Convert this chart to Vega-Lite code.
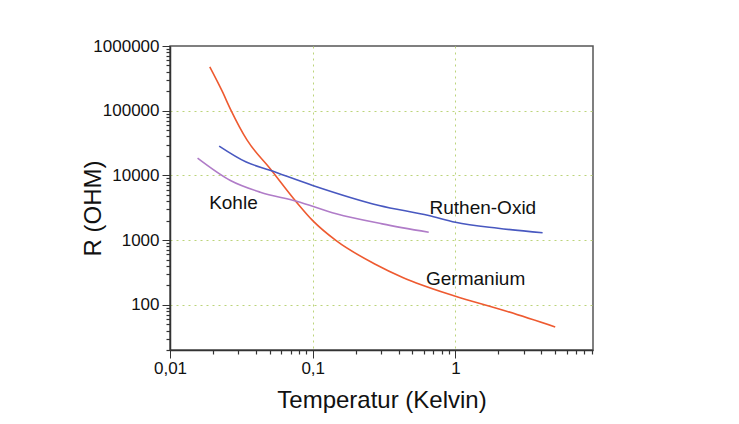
{
  "$schema": "https://vega.github.io/schema/vega-lite/v6.json",
  "width": 423,
  "height": 304,
  "autosize": {"type": "none"},
  "padding": {"left": 170, "top": 46, "right": 146, "bottom": 74},
  "background": "#ffffff",
  "config": {
    "font": "Liberation Sans",
    "view": {"stroke": "#555555", "strokeWidth": 1.5},
    "axis": {
      "domainColor": "#333333",
      "domainWidth": 1.5,
      "tickColor": "#333333",
      "tickWidth": 1,
      "labelFont": "Liberation Sans",
      "labelFontSize": 17,
      "labelColor": "#111111",
      "titleFont": "Liberation Sans",
      "titleFontSize": 24,
      "titleFontWeight": "normal",
      "titleColor": "#111111",
      "labelOverlap": false,
      "labelBound": false,
      "labelFlush": false
    }
  },
  "resolve": {"axis": {"x": "independent", "y": "independent"}},
  "datasets": {
    "curves": [
      {"series": "Germanium", "T": 0.019, "R": 475000},
      {"series": "Germanium", "T": 0.0232, "R": 200000},
      {"series": "Germanium", "T": 0.0265, "R": 106000},
      {"series": "Germanium", "T": 0.0347, "R": 35000},
      {"series": "Germanium", "T": 0.0502, "R": 12800},
      {"series": "Germanium", "T": 0.077, "R": 3860},
      {"series": "Germanium", "T": 0.1, "R": 2000},
      {"series": "Germanium", "T": 0.146, "R": 980},
      {"series": "Germanium", "T": 0.272, "R": 428},
      {"series": "Germanium", "T": 0.427, "R": 265},
      {"series": "Germanium", "T": 0.975, "R": 138},
      {"series": "Germanium", "T": 2.22, "R": 81},
      {"series": "Germanium", "T": 5.0, "R": 45.5},
      {"series": "Ruthen-Oxid", "T": 0.0221, "R": 28400},
      {"series": "Ruthen-Oxid", "T": 0.0342, "R": 16100},
      {"series": "Ruthen-Oxid", "T": 0.0502, "R": 12000},
      {"series": "Ruthen-Oxid", "T": 0.1, "R": 7000},
      {"series": "Ruthen-Oxid", "T": 0.292, "R": 3430},
      {"series": "Ruthen-Oxid", "T": 0.65, "R": 2400},
      {"series": "Ruthen-Oxid", "T": 1.0, "R": 1890},
      {"series": "Ruthen-Oxid", "T": 1.99, "R": 1525},
      {"series": "Ruthen-Oxid", "T": 4.08, "R": 1295},
      {"series": "Kohle", "T": 0.0156, "R": 18500},
      {"series": "Kohle", "T": 0.0265, "R": 8350},
      {"series": "Kohle", "T": 0.0429, "R": 5500},
      {"series": "Kohle", "T": 0.077, "R": 3990},
      {"series": "Kohle", "T": 0.146, "R": 2550},
      {"series": "Kohle", "T": 0.307, "R": 1780},
      {"series": "Kohle", "T": 0.65, "R": 1320}
    ],
    "labels": [
      {"series": "Kohle", "T": 0.0188, "R": 3800},
      {"series": "Ruthen-Oxid", "T": 0.658, "R": 3180},
      {"series": "Germanium", "T": 0.622, "R": 254}
    ]
  },
  "layer": [
    {
      "data": {"name": "curves"},
      "mark": {"type": "line", "strokeWidth": 1.6, "interpolate": "monotone"},
      "encoding": {
        "x": {
          "field": "T",
          "type": "quantitative",
          "scale": {"type": "log", "domain": [0.01, 9.2], "nice": false},
          "axis": {
            "orient": "bottom",
            "title": "Temperatur (Kelvin)",
            "values": [0.01, 0.1, 1],
            "labelExpr": "datum.value == 0.01 ? '0,01' : datum.value == 0.1 ? '0,1' : '1'",
            "tickSize": 8,
            "labelPadding": 2,
            "grid": true,
            "gridColor": "#bcd47a",
            "gridDash": [2, 4],
            "gridWidth": 1,
            "gridOpacity": {"condition": {"test": "datum.value > 0.05", "value": 1}, "value": 0},
            "titleBaseline": "middle",
            "titleY": 50
          }
        },
        "y": {
          "field": "R",
          "type": "quantitative",
          "scale": {"type": "log", "domain": [20, 1000000], "nice": false},
          "axis": {
            "orient": "left",
            "title": "R (OHM)",
            "values": [100, 1000, 10000, 100000, 1000000],
            "format": "d",
            "tickSize": 8,
            "labelPadding": 3,
            "grid": true,
            "gridColor": "#bcd47a",
            "gridDash": [2, 4],
            "gridWidth": 1,
            "gridOpacity": {"condition": {"test": "datum.value < 500000", "value": 1}, "value": 0},
            "titleBaseline": "alphabetic",
            "titleAngle": -90,
            "titleAlign": "center",
            "titleX": -70,
            "titleY": 162
          }
        },
        "color": {
          "field": "series",
          "type": "nominal",
          "scale": {"domain": ["Germanium", "Ruthen-Oxid", "Kohle"], "range": ["#ee5a30", "#4858c0", "#b07cc8"]},
          "legend": null
        }
      }
    },
    {
      "data": {"name": "labels"},
      "mark": {"type": "text", "align": "left", "baseline": "middle", "font": "Liberation Sans", "fontSize": 19, "color": "#111111"},
      "encoding": {
        "x": {
          "field": "T",
          "type": "quantitative",
          "scale": {"type": "log", "domain": [0.01, 9.2], "nice": false},
          "axis": {
            "orient": "bottom",
            "title": null,
            "values": [0.02, 0.03, 0.04, 0.05, 0.06, 0.07, 0.08, 0.09, 0.2, 0.3, 0.4, 0.5, 0.6, 0.7, 0.8, 0.9, 2, 3, 4, 5, 6, 7, 8, 9],
            "labels": false,
            "domain": false,
            "grid": false,
            "ticks": true,
            "tickSize": 4,
            "tickWidth": 1.2,
            "tickColor": "#333333"
          }
        },
        "y": {
          "field": "R",
          "type": "quantitative",
          "scale": {"type": "log", "domain": [20, 1000000], "nice": false},
          "axis": {
            "orient": "left",
            "title": null,
            "values": [20, 30, 40, 50, 60, 70, 80, 90, 200, 300, 400, 500, 600, 700, 800, 900, 2000, 3000, 4000, 5000, 6000, 7000, 8000, 9000, 20000, 30000, 40000, 50000, 60000, 70000, 80000, 90000, 200000, 300000, 400000, 500000, 600000, 700000, 800000, 900000],
            "labels": false,
            "domain": false,
            "grid": false,
            "ticks": true,
            "tickSize": 4,
            "tickWidth": 1.2,
            "tickColor": "#333333"
          }
        },
        "text": {"field": "series", "type": "nominal"}
      }
    }
  ]
}
